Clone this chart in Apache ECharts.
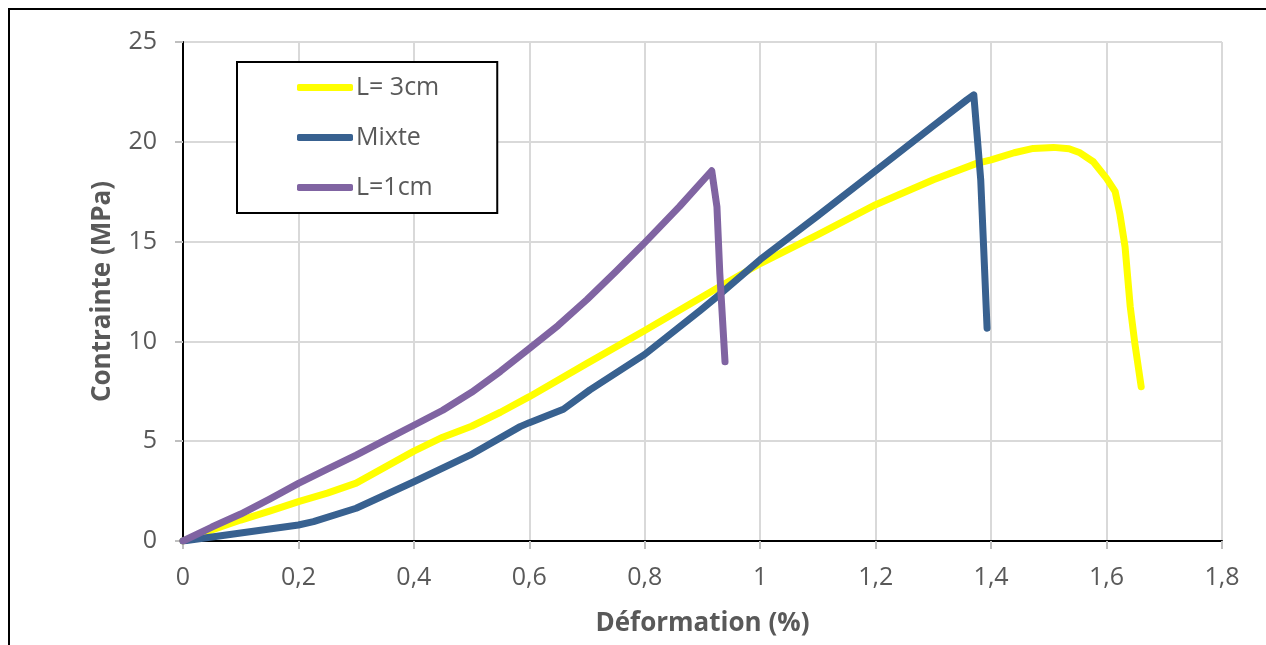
<!DOCTYPE html>
<html>
<head>
<meta charset="utf-8">
<script src="https://cdn.jsdelivr.net/npm/echarts@6/dist/echarts.min.js"></script>
<style>html,body{margin:0;padding:0;background:#fff}#c{width:1266px;height:645px}</style>
</head>
<body>
<div id="c"></div>
<script>
// Data (strain %, stress MPa)
const seriesNames = ['L= 3cm', 'Mixte', 'L=1cm'];
const l3X = [0, 0.05, 0.1, 0.15, 0.2, 0.25, 0.3, 0.35, 0.4, 0.45, 0.5, 0.55, 0.6, 0.7, 0.8, 0.925, 1.0, 1.1, 1.2, 1.3, 1.375, 1.4, 1.44, 1.473, 1.508, 1.535, 1.554, 1.577, 1.6, 1.615, 1.623, 1.632, 1.641, 1.649, 1.660];
const l3Y = [0, 0.55, 1.05, 1.5, 1.97, 2.4, 2.9, 3.7, 4.5, 5.2, 5.75, 6.45, 7.23, 8.9, 10.55, 12.66, 13.9, 15.35, 16.85, 18.1, 18.92, 19.09, 19.45, 19.67, 19.72, 19.65, 19.45, 19.0, 18.17, 17.5, 16.4, 14.75, 11.74, 9.9, 7.73];
const mixX = [0, 0.1, 0.2, 0.226, 0.3, 0.4, 0.497, 0.584, 0.6, 0.624, 0.659, 0.705, 0.8, 0.896, 0.925, 1.0, 1.1, 1.2, 1.3, 1.358, 1.370, 1.382, 1.387, 1.393];
const mixY = [0, 0.4, 0.8, 0.97, 1.64, 2.97, 4.3, 5.73, 5.93, 6.2, 6.6, 7.57, 9.35, 11.55, 12.24, 14.1, 16.3, 18.55, 20.8, 22.1, 22.35, 18.1, 14.75, 10.66];
const l1X = [0, 0.05, 0.1, 0.15, 0.2, 0.25, 0.3, 0.35, 0.4, 0.45, 0.5, 0.55, 0.6, 0.65, 0.7, 0.75, 0.8, 0.86, 0.916, 0.925, 0.93, 0.939];
const l1Y = [0, 0.7, 1.35, 2.1, 2.89, 3.6, 4.3, 5.05, 5.8, 6.55, 7.45, 8.5, 9.65, 10.8, 12.1, 13.5, 14.95, 16.75, 18.55, 16.75, 13.4, 8.98];
const colors = ['#FFFF00', '#386190', '#8064A2'];
const xTitle = 'Déformation (%)';
const yTitle = 'Contrainte (MPa)';

const zip = (xs, ys) => xs.map((x, i) => [x, ys[i]]);
const font = 'Open Sans';
const txt = '#595959';

const chart = echarts.init(document.getElementById('c'));
chart.setOption({
  animation: false,
  backgroundColor: '#fff',
  grid: { left: 183, right: 44, top: 42, bottom: 104, containLabel: false },
  graphic: [{
    type: 'rect', z: -10, silent: true,
    shape: { x: 9, y: 9, width: 1400, height: 800 },
    style: { fill: 'none', stroke: '#000', lineWidth: 2 }
  }],
  legend: {
    orient: 'vertical', left: 237, top: 62,
    padding: [13, 58, 13, 60], itemGap: 25,
    itemWidth: 56, itemHeight: 7, icon: 'roundRect',
    backgroundColor: '#fff', borderColor: '#000', borderWidth: 2,
    textStyle: { fontFamily: font, fontSize: 25, color: txt, padding: [0, 0, 0, -2] },
    data: seriesNames
  },
  xAxis: [{
    type: 'value', min: 0, max: 1.8, interval: 0.2,
    name: xTitle, nameLocation: 'middle', nameGap: 70,
    nameTextStyle: { fontFamily: font, fontSize: 26, fontWeight: 'bold', color: txt },
    axisLine: { show: true, lineStyle: { color: '#bfbfbf', width: 2 } },
    axisTick: { show: true, length: 8, lineStyle: { color: '#bfbfbf', width: 2 } },
    axisLabel: { fontFamily: font, fontSize: 25, color: txt, margin: 24,
      formatter: v => String(+v.toFixed(1)).replace('.', ',') },
    splitLine: { show: true, lineStyle: { color: '#d9d9d9', width: 2 } }
  }, {
    type: 'value', position: 'top', min: 0, max: 1.8,
    axisLine: { show: true, lineStyle: { color: '#000', width: 2 } },
    axisTick: { show: false }, axisLabel: { show: false }, splitLine: { show: false }
  }],
  yAxis: [{
    type: 'value', min: 0, max: 25, interval: 5,
    name: yTitle, nameLocation: 'middle', nameGap: 67,
    nameTextStyle: { fontFamily: font, fontSize: 26, fontWeight: 'bold', color: txt },
    axisLine: { show: true, lineStyle: { color: '#bfbfbf', width: 2 } },
    axisTick: { show: true, length: 8, lineStyle: { color: '#bfbfbf', width: 2 } },
    axisLabel: { fontFamily: font, fontSize: 25, color: txt, margin: 26 },
    splitLine: { show: true, lineStyle: { color: '#d9d9d9', width: 2 } }
  }, {
    type: 'value', position: 'right', min: 0, max: 25,
    axisLine: { show: true, lineStyle: { color: '#000', width: 2 } },
    axisTick: { show: false }, axisLabel: { show: false }, splitLine: { show: false }
  }],
  series: [
    { name: seriesNames[0], data: zip(l3X, l3Y), color: colors[0] },
    { name: seriesNames[1], data: zip(mixX, mixY), color: colors[1] },
    { name: seriesNames[2], data: zip(l1X, l1Y), color: colors[2] }
  ].map(s => Object.assign({
    type: 'line', xAxisIndex: 0, yAxisIndex: 0, symbol: 'none', smooth: false,
    lineStyle: { width: 7, cap: 'round', join: 'round', color: s.color },
    itemStyle: { color: s.color }
  }, s))
});
</script>
</body>
</html>
